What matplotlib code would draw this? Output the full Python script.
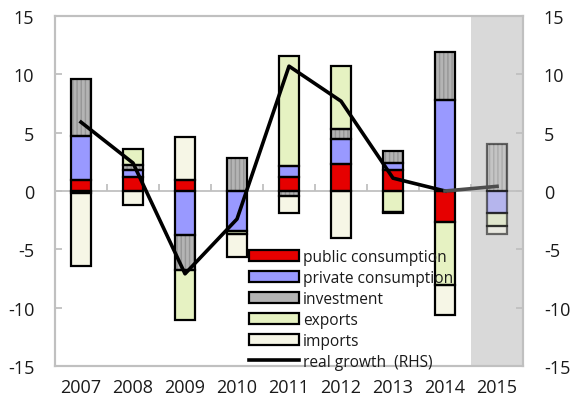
import numpy as np
import matplotlib.pyplot as plt
from matplotlib.patches import Patch
from matplotlib.lines import Line2D

plt.rcParams['font.family'] = ['Open Sans', 'DejaVu Sans']
plt.rcParams['axes.unicode_minus'] = False

years = ['2007', '2008', '2009', '2010', '2011', '2012', '2013', '2014', '2015']
public = [0.9, 1.2, 0.9, 0.0, 1.2, 2.3, 1.8, -2.7, 0.0]
private = [3.8, 0.6, -3.8, -3.4, 0.9, 2.2, 0.6, 7.8, -1.9]
investment = [4.9, 0.4, -3.0, 2.8, -0.4, 0.8, 1.0, 4.1, 4.0]
exports = [-0.2, 1.4, -4.3, -0.3, 9.5, 5.4, -1.8, -5.4, -1.1]
imports = [-6.2, -1.2, 3.7, -2.0, -1.5, -4.0, -0.1, -2.5, -0.7]
growth = [5.9, 2.4, -7.1, -2.4, 10.7, 7.7, 1.1, 0.0, 0.4]

series = [
    ('public consumption', public, '#e60000', None),
    ('private consumption', private, '#9999ff', None),
    ('investment', investment, '#b4b4b4', '||||'),
    ('exports', exports, '#e6f2c2', None),
    ('imports', imports, '#f6f6e6', None),
]

x = np.arange(len(years))
width = 0.385
grey = '#c0c0c0'
txt = '#1a1a1a'

fig = plt.figure(figsize=(5.84, 4.06), dpi=100)
ax = fig.add_axes([0.0942, 0.0961, 0.8014, 0.862])

# forecast year shading
ax.axvspan(7.5, 8.5, color='#d9d9d9', lw=0, zorder=0)
ax.axhline(0, color=grey, lw=1.3, zorder=1)

pos = np.zeros(len(years))
neg = np.zeros(len(years))
handles = []
for label, vals, color, hatch in series:
    vals = np.array(vals, dtype=float)
    bottom = np.where(vals >= 0, pos, neg)
    for i in range(len(years)):
        if vals[i] == 0:
            continue
        a = 0.55 if i == len(years) - 1 else 1.0
        ax.bar(x[i], vals[i], width, bottom=bottom[i], color=color, hatch=hatch,
               edgecolor='#969696' if hatch else color, linewidth=0, alpha=a, zorder=2)
        ax.bar(x[i], vals[i], width, bottom=bottom[i], facecolor='none',
               edgecolor='black', linewidth=1.6, alpha=a, zorder=3)
    pos += np.where(vals > 0, vals, 0)
    neg += np.where(vals < 0, vals, 0)
    handles.append(Patch(facecolor=color, edgecolor='black', lw=1.6, label=label))

ax.set_xlim(-0.5, 8.5)
ax.set_ylim(-15, 15)
ax.set_yticks(range(-15, 16, 5))
ax.set_xticks(x, years)
ax.tick_params(axis='x', length=0, pad=9, labelsize=13, labelcolor=txt)
ax.tick_params(axis='y', direction='in', length=5, width=1.3, color=grey,
               pad=15, labelsize=13, labelcolor=txt)

# category separators on the zero line
sec = ax.secondary_xaxis(0.5)
sec.set_xticks(np.arange(0.5, len(years) - 0.5, 1))
sec.tick_params(direction='out', length=5, width=1.3, color=grey,
                labeltop=False, labelbottom=False)
for s in sec.spines.values():
    s.set_visible(False)

ax2 = ax.twinx()
ax2.set_ylim(-15, 15)
ax2.set_yticks(range(-15, 16, 5))
ax2.tick_params(axis='y', direction='in', length=5, width=1.3, color=grey,
                pad=15, labelsize=13, labelcolor=txt)
ax2.plot(x[:-1], growth[:-1], color='black', lw=2.6, zorder=4)
ax2.plot(x[-2:], growth[-2:], color='#4d4d4d', lw=2.6, zorder=4)

for a_ in (ax, ax2):
    for s in a_.spines.values():
        s.set_color(grey)
        s.set_linewidth(1.5)

handles.append(Line2D([], [], color='black', lw=2.6, label='real growth  (RHS)'))
ax2.legend(handles=handles, loc='upper left', bbox_to_anchor=(0.4145, 0.335),
           frameon=False, borderpad=0, borderaxespad=0, handlelength=3.2,
           handleheight=0.7, handletextpad=0.25, labelspacing=0.32,
           fontsize=11.2, labelcolor=txt)

fig.savefig('out.png', dpi=100)
